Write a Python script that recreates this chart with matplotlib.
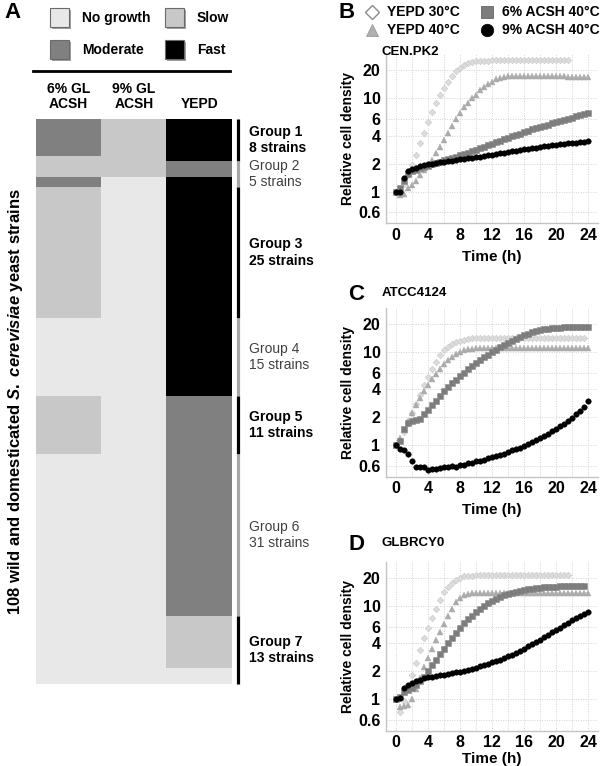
import numpy as np
import matplotlib
matplotlib.use("Agg")
import matplotlib.pyplot as plt
from matplotlib.colors import ListedColormap
from matplotlib.patches import Rectangle
from matplotlib.ticker import FixedLocator, MultipleLocator, NullLocator

plt.rcParams["font.family"] = ["Liberation Sans", "DejaVu Sans"]
plt.rcParams["font.weight"] = "bold"
plt.rcParams["axes.labelweight"] = "bold"
plt.rcParams["mathtext.fontset"] = "custom"
plt.rcParams["mathtext.it"] = "Liberation Sans:italic:bold"
plt.rcParams["mathtext.rm"] = "Liberation Sans:bold"

# ---- panel A: growth phenotypes of 108 strains ----
STATUS_NAMES = ["No growth", "Slow", "Moderate", "Fast"]
STATUS_COLORS = ["#e8e8e8", "#c8c8c8", "#808080", "#000000"]
CONDITIONS = ["6% GL\nACSH", "9% GL\nACSH", "YEPD"]

COL1_STATUS = ["Moderate", "Slow", "Moderate", "Slow", "No growth", "Slow", "No growth"]
COL1_COUNTS = [7, 4, 2, 25, 15, 11, 44]
COL2_STATUS = ["Slow", "No growth"]
COL2_COUNTS = [11, 97]
COL3_STATUS = ["Fast", "Moderate", "Fast", "Moderate", "Slow", "No growth"]
COL3_COUNTS = [8, 3, 42, 42, 10, 3]

GROUP_NAMES = ["Group 1", "Group 2", "Group 3", "Group 4", "Group 5", "Group 6", "Group 7"]
GROUP_SIZES = [8, 5, 25, 15, 11, 31, 13]

# ---- panels B-D: growth curves (relative cell density, every 30 min) ----
STEP_H = 0.5

B_YEPD30 = [1.0, 1.0, 1.2, 1.5, 1.95, 2.5, 3.3, 4.3, 5.6, 7.2, 9.0, 11.0, 13.0, 15.2, 17.5,
            19.5, 21.3, 23.0, 24.0, 24.8, 25.2, 25.4, 25.5, 25.5, 25.6, 25.6, 25.6, 25.7,
            25.7, 25.7, 25.7, 25.8, 25.8, 25.8, 25.8, 25.8, 25.9, 25.9, 25.9, 25.9, 25.9,
            26.0, 26.0, 26.0]
B_YEPD40 = [1.0, 0.93, 0.95, 1.1, 1.17, 1.3, 1.5, 1.7, 1.95, 2.2, 2.6, 3.0, 3.6, 4.3, 5.1,
            6.0, 7.0, 8.0, 9.0, 10.0, 11.0, 12.2, 13.3, 14.3, 15.2, 16.0, 16.6, 17.1, 17.4,
            17.5, 17.5, 17.5, 17.5, 17.5, 17.4, 17.4, 17.4, 17.4, 17.3, 17.3, 17.3, 17.3,
            17.3, 17.2, 17.2, 17.2, 17.2, 17.1, 17.1]
B_ACSH6 = [1.0, 1.1, 1.3, 1.55, 1.65, 1.72, 1.78, 1.85, 1.9, 1.97, 2.03, 2.1, 2.17, 2.24,
           2.31, 2.38, 2.45, 2.53, 2.62, 2.72, 2.82, 2.93, 3.04, 3.15, 3.27, 3.39, 3.52,
           3.65, 3.78, 3.92, 4.06, 4.2, 4.35, 4.5, 4.65, 4.8, 4.95, 5.1, 5.25, 5.4, 5.55,
           5.7, 5.85, 6.0, 6.2, 6.4, 6.6, 6.8, 6.95]
B_ACSH9 = [1.0, 1.0, 1.4, 1.65, 1.73, 1.8, 1.86, 1.92, 1.97, 2.0, 2.03, 2.06, 2.09, 2.12,
           2.15, 2.18, 2.22, 2.25, 2.28, 2.31, 2.35, 2.38, 2.41, 2.45, 2.49, 2.53, 2.57,
           2.61, 2.66, 2.7, 2.75, 2.8, 2.85, 2.89, 2.93, 2.97, 3.01, 3.05, 3.09, 3.13, 3.17,
           3.21, 3.25, 3.29, 3.33, 3.36, 3.4, 3.43, 3.46]

C_YEPD30 = [1.0, 1.15, 1.4, 1.75, 2.2, 2.8, 3.5, 4.4, 5.4, 6.6, 7.9, 9.2, 10.4, 11.4, 12.2,
            12.8, 13.3, 13.6, 13.8, 14.0, 14.1, 14.2, 14.2, 14.2, 14.2, 14.3, 14.3, 14.3,
            14.3, 14.3, 14.3, 14.3, 14.3, 14.3, 14.3, 14.3, 14.3, 14.3, 14.3, 14.3, 14.3,
            14.3, 14.3, 14.3, 14.3, 14.3, 14.3, 14.3]
C_YEPD40 = [1.0, 1.2, 1.45, 1.8, 2.2, 2.7, 3.2, 3.8, 4.4, 5.1, 5.8, 6.6, 7.4, 8.2, 8.9, 9.5,
            10.0, 10.4, 10.7, 10.9, 11.0, 11.0, 11.1, 11.1, 11.1, 11.1, 11.1, 11.1, 11.1,
            11.1, 11.1, 11.1, 11.1, 11.1, 11.1, 11.1, 11.1, 11.1, 11.1, 11.1, 11.1, 11.1,
            11.1, 11.1, 11.1, 11.1, 11.1, 11.1, 11.1]
C_ACSH6 = [1.0, 1.1, 1.5, 1.75, 1.8, 1.85, 1.93, 2.15, 2.4, 2.7, 3.0, 3.4, 3.8, 4.2, 4.6,
           5.05, 5.5, 6.0, 6.5, 7.05, 7.6, 8.2, 8.8, 9.4, 10.0, 10.6, 11.2, 11.9, 12.5, 13.2,
           13.9, 14.5, 15.2, 15.8, 16.3, 16.8, 17.2, 17.5, 17.8, 18.0, 18.2, 18.3, 18.4,
           18.5, 18.5, 18.5, 18.5, 18.5, 18.5]
C_ACSH9 = [1.0, 0.9, 0.89, 0.8, 0.68, 0.59, 0.58, 0.59, 0.54, 0.56, 0.56, 0.57, 0.58, 0.58,
           0.6, 0.59, 0.61, 0.62, 0.64, 0.65, 0.67, 0.68, 0.7, 0.72, 0.74, 0.76, 0.79, 0.81,
           0.84, 0.88, 0.91, 0.94, 0.98, 1.03, 1.08, 1.13, 1.19, 1.26, 1.33, 1.41, 1.5, 1.6,
           1.7, 1.82, 1.96, 2.15, 2.35, 2.6, 2.95]

D_YEPD30 = [1.0, 0.73, 0.95, 1.3, 1.82, 2.45, 3.4, 4.5, 5.85, 7.5, 9.3, 11.6, 14.0, 16.0,
            17.5, 18.9, 20.0, 20.8, 21.1, 21.2, 21.3, 21.3, 21.3, 21.3, 21.3, 21.3, 21.3,
            21.3, 21.3, 21.3, 21.3, 21.3, 21.3, 21.3, 21.3, 21.3, 21.3, 21.3, 21.3, 21.3,
            21.3, 21.3, 21.3, 21.3]
D_YEPD40 = [1.0, 0.83, 0.84, 0.86, 1.0, 1.3, 1.7, 2.2, 2.8, 3.5, 4.3, 5.3, 6.4, 7.8, 9.3,
            11.0, 12.3, 13.2, 13.6, 13.7, 13.7, 13.7, 13.7, 13.7, 13.7, 13.7, 13.7, 13.7,
            13.7, 13.7, 13.7, 13.7, 13.7, 13.7, 13.7, 13.7, 13.7, 13.7, 13.7, 13.7, 13.7,
            13.7, 13.7, 13.7, 13.7, 13.7, 13.7, 13.7, 13.7]
D_ACSH6 = [1.0, 1.05, 1.2, 1.25, 1.32, 1.42, 1.55, 1.75, 2.0, 2.3, 2.65, 3.05, 3.5, 4.0,
           4.55, 5.15, 5.8, 6.5, 7.2, 7.9, 8.6, 9.3, 10.0, 10.7, 11.3, 11.9, 12.5, 13.0,
           13.5, 13.9, 14.3, 14.6, 14.9, 15.2, 15.4, 15.6, 15.8, 15.9, 16.0, 16.1, 16.2,
           16.3, 16.3, 16.4, 16.4, 16.4, 16.4, 16.4]
D_ACSH9 = [1.0, 1.03, 1.32, 1.42, 1.5, 1.56, 1.62, 1.67, 1.72, 1.75, 1.78, 1.81, 1.84, 1.87,
           1.9, 1.94, 1.98, 2.03, 2.08, 2.13, 2.18, 2.25, 2.32, 2.4, 2.48, 2.57, 2.66, 2.76,
           2.88, 3.0, 3.15, 3.3, 3.5, 3.7, 3.9, 4.1, 4.35, 4.6, 4.9, 5.2, 5.5, 5.85, 6.2,
           6.6, 7.0, 7.4, 7.8, 8.25, 8.7]

SERIES_LABELS = ["YEPD 30°C", "YEPD 40°C", "6% ACSH 40°C", "9% ACSH 40°C"]
Y_TICKS = [0.6, 1, 2, 4, 6, 10, 20]
Y_TICK_LABELS = ["0.6", "1", "2", "4", "6", "10", "20"]
X_TICKS = [0, 4, 8, 12, 16, 20, 24]

W, H = 600, 766
fig = plt.figure(figsize=(W / 100, H / 100), dpi=100)


def box(x0, y0, x1, y1):
    return [x0 / W, 1 - y1 / H, (x1 - x0) / W, (y1 - y0) / H]


def expand(status, counts):
    out = []
    for s, n in zip(status, counts):
        out += [STATUS_NAMES.index(s)] * n
    return out


# ---------------- panel A ----------------
heat = np.column_stack([expand(COL1_STATUS, COL1_COUNTS),
                        expand(COL2_STATUS, COL2_COUNTS),
                        expand(COL3_STATUS, COL3_COUNTS)])
n_strains = heat.shape[0]

axa = fig.add_axes(box(36, 119, 232, 684))
axa.imshow(heat, cmap=ListedColormap(STATUS_COLORS), vmin=-0.5, vmax=3.5,
           aspect="auto", interpolation="nearest", extent=(0, 3, n_strains, 0))
axa.set_xlim(0, 3)
axa.set_ylim(n_strains, 0)
axa.axis("off")

for i, cond in enumerate(CONDITIONS):
    axa.text(i + 0.5, -1.5, cond, ha="center", va="bottom", fontsize=10,
             linespacing=1.15)

edges = np.concatenate([[0], np.cumsum(GROUP_SIZES)])
for k, name in enumerate(GROUP_NAMES):
    strong = k % 2 == 0
    axa.plot([3.095, 3.095], [edges[k], edges[k + 1]], clip_on=False,
             color="black" if strong else "#a8a8a8", lw=2.3, solid_capstyle="butt")
    axa.text(3.26, (edges[k] + edges[k + 1]) / 2,
             f"{name}\n{GROUP_SIZES[k]} strains", ha="left", va="center",
             fontsize=10, linespacing=1.25,
             fontweight="bold" if strong else "normal",
             color="black" if strong else "#404040")

# ---------------- panels B-D ----------------
panels = [
    ("B", "CEN.PK2", (54, 223), [B_YEPD30, B_YEPD40, B_ACSH6, B_ACSH9], 5),
    ("C", "ATCC4124", (307.6, 476.6), [C_YEPD30, C_YEPD40, C_ACSH6, C_ACSH9], 5),
    ("D", "GLBRCY0", (561.6, 730.6), [D_YEPD30, D_YEPD40, D_ACSH6, D_ACSH9], 1),
]
styles = [
    dict(marker="D", ms=3.3, mfc="#dcdcdc", mec="#cccccc", mew=0.5),
    dict(marker="^", ms=4.0, mfc="#ababab", mec="#ababab", mew=0.3),
    dict(marker="s", ms=3.7, mfc="#7c7c7c", mec="#8a8a8a", mew=0.4),
    dict(marker="o", ms=4.0, mfc="black", mec="black", mew=0.3),
]

for letter, strain, (top, bottom), series, lpad in panels:
    ax = fig.add_axes(box(386, top, 598, bottom))
    for vals, st in zip(series, styles):
        t = np.arange(len(vals)) * STEP_H
        ax.plot(t, vals, linestyle="none", **st)
    ax.set_yscale("log")
    ax.set_ylim(0.46, 30)
    ax.set_xlim(-1.2, 25.2)
    ax.yaxis.set_major_locator(FixedLocator(Y_TICKS))
    ax.yaxis.set_minor_locator(NullLocator())
    ax.set_yticklabels(Y_TICK_LABELS)
    ax.xaxis.set_major_locator(FixedLocator(X_TICKS))
    ax.xaxis.set_minor_locator(MultipleLocator(2))
    ax.grid(True, which="both", axis="x", color="#d2d2d2", lw=0.7, ls=(0, (1, 1.5)))
    ax.grid(True, which="major", axis="y", color="#d2d2d2", lw=0.7, ls=(0, (1, 1.5)))
    ax.set_axisbelow(True)
    for side in ["top", "right"]:
        ax.spines[side].set_visible(False)
    for side in ["left", "bottom"]:
        ax.spines[side].set_color("#c4c4c4")
        ax.spines[side].set_linewidth(1.0)
    ax.tick_params(axis="both", which="both", length=0, labelsize=11.5)
    ax.tick_params(axis="x", pad=3.5)
    ax.tick_params(axis="y", pad=4)
    for lab in ax.get_xticklabels() + ax.get_yticklabels():
        lab.set_fontweight("bold")
    ax.set_xlabel("Time (h)", fontsize=11, fontweight="bold", labelpad=lpad)
    ax.set_ylabel("Relative cell density", fontsize=10, fontweight="bold")
    ax.yaxis.set_label_coords(-0.145, 0.5)
    ax.patch.set_alpha(0)

# ---------------- overlay: letters, legends, titles ----------------
ov = fig.add_axes([0, 0, 1, 1])
ov.set_xlim(0, W)
ov.set_ylim(H, 0)
ov.axis("off")

ov.text(4, 13, "A", fontsize=16, ha="left", va="center")
ov.text(338, 13, "B", fontsize=16, ha="left", va="center")
ov.text(348, 294, "C", fontsize=16, ha="left", va="center")
ov.text(348, 544, "D", fontsize=16, ha="left", va="center")
ov.text(381, 52, "CEN.PK2", fontsize=9.5, ha="left", va="center")
ov.text(382, 293, "ATCC4124", fontsize=9.5, ha="left", va="center")
ov.text(382, 543, "GLBRCY0", fontsize=9.5, ha="left", va="center")

# panel A legend
swatches = [(50, 8), (165, 8), (50, 40), (165, 40)]
for (x, y), name, col in zip(swatches, STATUS_NAMES, STATUS_COLORS):
    ov.add_patch(Rectangle((x + 1.5, y + 1.5), 19, 19, facecolor="#a0a0a0", edgecolor="none"))
    ov.add_patch(Rectangle((x, y), 19, 19, facecolor=col, edgecolor="#6a6a6a", lw=0.8))
    ov.text(x + 32, y + 10, name, fontsize=10, ha="left", va="center")
ov.plot([33, 230], [71, 71], color="black", lw=2.0)

ov.text(16, 402, "108 wild and domesticated $S.\\ cerevisiae$ yeast strains",
        rotation=90, fontsize=12, ha="center", va="center")

# panel B legend
leg_pos = [(372, 12), (372, 30), (487, 12), (487, 30)]
leg_styles = [
    dict(marker="D", ms=7, mfc="white", mec="#8a8a8a", mew=1.0),
    dict(marker="^", ms=9, mfc="#b0b0b0", mec="#9a9a9a", mew=0.6),
    dict(marker="s", ms=9, mfc="#7c7c7c", mec="#666666", mew=0.6),
    dict(marker="o", ms=9, mfc="black", mec="black", mew=0.5),
]
for (x, y), lab, st in zip(leg_pos, SERIES_LABELS, leg_styles):
    ov.plot([x], [y], linestyle="none", **st)
    ov.text(x + 15, y, lab, fontsize=10, ha="left", va="center")

fig.savefig("out.png", dpi=100, facecolor="white")
